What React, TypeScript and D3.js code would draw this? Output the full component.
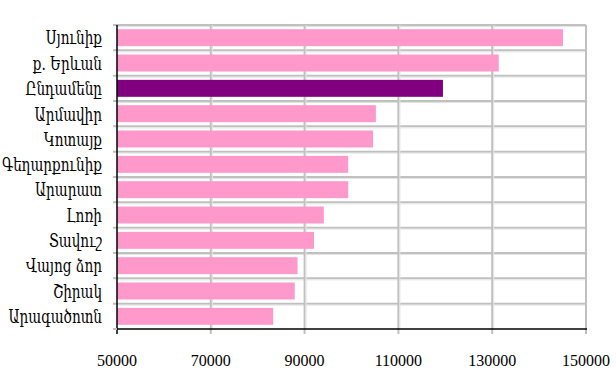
import * as d3 from "d3";
import React, { useEffect, useRef } from "react";

// regions, top to bottom
const regions: string[] = [
  "Սյունիք",
  "ք. Երևան",
  "Ընդամենը",
  "Արմավիր",
  "Կոտայք",
  "Գեղարքունիք",
  "Արարատ",
  "Լոռի",
  "Տավուշ",
  "Վայոց ձոր",
  "Շիրակ",
  "Արագածոտն",
];

const values: number[] = [
  145100, 131400, 119500, 105200, 104600, 99300, 99300, 94100, 92000, 88500,
  87900, 83300,
];

const xTicks: number[] = [50000, 70000, 90000, 110000, 130000, 150000];

const highlight = "Ընդամենը";

const App: React.FC = () => {
  const ref = useRef<SVGSVGElement>(null);

  useEffect(() => {
    const width = 616;
    const height = 372;
    const margin = { top: 25, right: 30, bottom: 43, left: 117 };

    d3.select(ref.current).selectAll("*").remove();

    const svg = d3.select(ref.current)
      .attr("width", width)
      .attr("height", height);

    const x = d3.scaleLinear()
      .domain([50000, 150000])
      .range([margin.left, width - margin.right]);

    const y = d3.scaleBand()
      .domain(regions)
      .range([margin.top, height - margin.bottom])
      .paddingInner(0.33)
      .paddingOuter(0.165);

    const step = y.step();
    const bottomY = height - margin.bottom;

    // horizontal grid lines at the band edges
    const edges = d3.range(regions.length).map((i) => margin.top + i * step);
    svg.append("g")
      .selectAll("line")
      .data(edges)
      .enter()
      .append("line")
      .attr("x1", margin.left - 4)
      .attr("x2", x(150000))
      .attr("y1", (d) => d)
      .attr("y2", (d) => d)
      .attr("stroke", "#c0c0c0")
      .attr("stroke-width", 2);

    svg.append("g")
      .selectAll("line")
      .data(edges)
      .enter()
      .append("line")
      .attr("x1", margin.left)
      .attr("x2", x(150000))
      .attr("y1", (d) => d + 1.5)
      .attr("y2", (d) => d + 1.5)
      .attr("stroke", "#e4e4e4")
      .attr("stroke-width", 1);

    // vertical grid lines
    svg.append("g")
      .selectAll("line")
      .data(xTicks.slice(1))
      .enter()
      .append("line")
      .attr("x1", (d) => x(d))
      .attr("x2", (d) => x(d))
      .attr("y1", margin.top)
      .attr("y2", bottomY + 5)
      .attr("stroke", "#c0c0c0")
      .attr("stroke-width", 2);

    svg.append("g")
      .selectAll("line")
      .data(xTicks.slice(1, -1))
      .enter()
      .append("line")
      .attr("x1", (d) => x(d) + 1.5)
      .attr("x2", (d) => x(d) + 1.5)
      .attr("y1", margin.top)
      .attr("y2", bottomY)
      .attr("stroke", "#e4e4e4")
      .attr("stroke-width", 1);

    // bars
    svg.append("g")
      .selectAll("rect")
      .data(regions)
      .enter()
      .append("rect")
      .attr("x", x(50000))
      .attr("y", (d) => y(d)!)
      .attr("width", (d, i) => x(values[i]) - x(50000))
      .attr("height", y.bandwidth())
      .attr("fill", (d) => (d === highlight ? "#800080" : "#ff99cc"));

    // axes lines
    svg.append("line")
      .attr("x1", margin.left)
      .attr("x2", margin.left)
      .attr("y1", margin.top)
      .attr("y2", bottomY + 5)
      .attr("stroke", "#000")
      .attr("stroke-width", 1.5);

    svg.append("line")
      .attr("x1", margin.left - 4)
      .attr("x2", margin.left)
      .attr("y1", bottomY)
      .attr("y2", bottomY)
      .attr("stroke", "#c0c0c0")
      .attr("stroke-width", 2);

    svg.append("line")
      .attr("x1", margin.left)
      .attr("x2", x(150000) + 1)
      .attr("y1", bottomY)
      .attr("y2", bottomY)
      .attr("stroke", "#000")
      .attr("stroke-width", 1.5);

    // category labels, squeezed a little horizontally like the original
    const labelX = margin.left - 15;
    svg.append("g")
      .attr("transform", `translate(${labelX},0) scale(0.84,1)`)
      .selectAll("text")
      .data(regions)
      .enter()
      .append("text")
      .attr("x", 0)
      .attr("y", (d) => y(d)! + y.bandwidth() / 2)
      .attr("dy", "0.38em")
      .attr("text-anchor", "end")
      .style("font-family", "'DejaVu Serif Condensed', 'DejaVu Serif', serif")
      .style("font-size", "18px")
      .attr("fill", "#000")
      .text((d) => d);

    // x tick labels
    svg.append("g")
      .selectAll("text")
      .data(xTicks)
      .enter()
      .append("text")
      .attr("x", (d) => x(d))
      .attr("y", 366)
      .attr("text-anchor", "middle")
      .style("font-family", "'Liberation Serif', serif")
      .style("font-size", "16px")
      .attr("fill", "#000")
      .text((d) => String(d));
  }, []);

  return (
    <svg
      ref={ref}
      style={{ position: "absolute", left: 0, top: 0, display: "block" }}
    ></svg>
  );
};

export default App;
